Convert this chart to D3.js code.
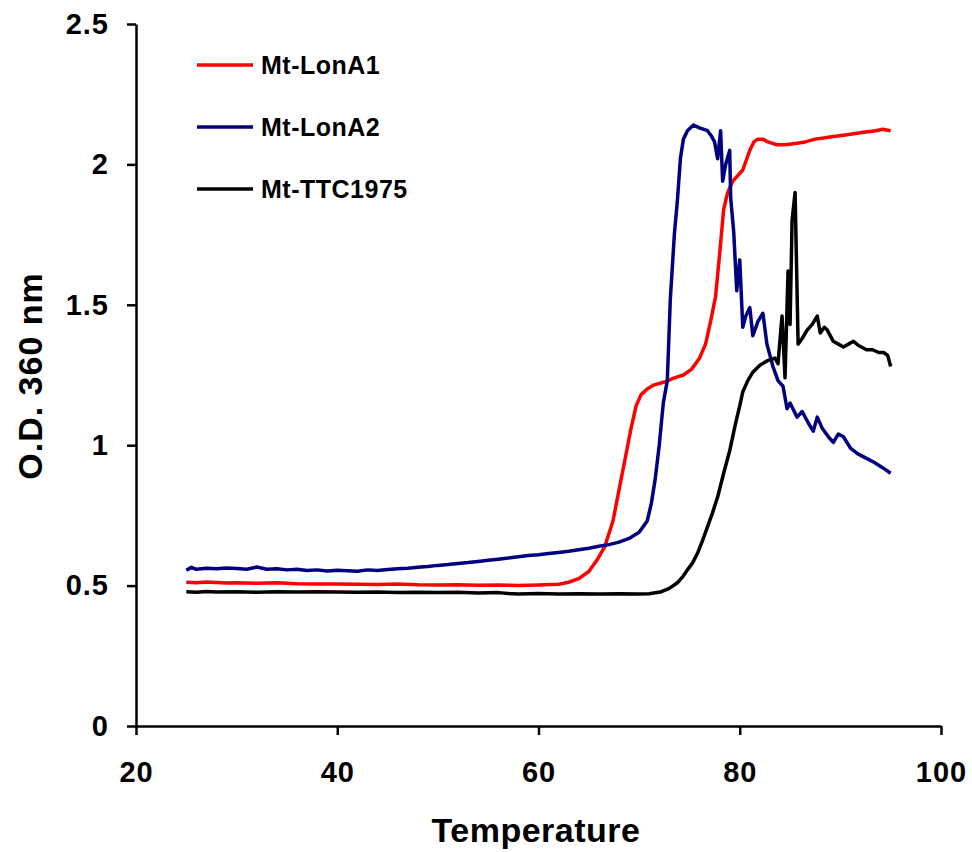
<!DOCTYPE html>
<html>
<head>
<meta charset="utf-8">
<script src="https://cdn.jsdelivr.net/npm/d3@7/dist/d3.min.js"></script>
<style>
  body { margin: 0; background: #fff; }
  svg { display: block; }
  text { font-family: "Liberation Sans", Arial, sans-serif; font-weight: bold; }
</style>
</head>
<body>
<script>
const w = 972
const h = 852

// tick labels
const xTicks = [20, 40, 60, 80, 100]
const yTicks = [0, 0.5, 1, 1.5, 2, 2.5]

// series names
const seriesNames = ['Mt-LonA1', 'Mt-LonA2', 'Mt-TTC1975']

// [temperature, O.D. 360 nm]
const lonA1 = [
  [25, 0.512], [26, 0.510], [27, 0.513], [28, 0.511], [29, 0.509], [30, 0.510],
  [32, 0.508], [34, 0.510], [36, 0.507], [38, 0.506], [40, 0.506], [42, 0.505],
  [44, 0.504], [46, 0.506], [48, 0.503], [50, 0.502], [52, 0.503], [54, 0.501],
  [56, 0.502], [58, 0.500], [60, 0.502], [62, 0.505], [63, 0.512], [64, 0.525],
  [65, 0.55], [65.8, 0.59], [66.6, 0.64], [67.4, 0.73], [68, 0.84], [68.6, 0.95],
  [69.2, 1.06], [69.7, 1.14], [70.2, 1.18], [70.8, 1.20], [71.5, 1.215], [72.5, 1.225],
  [73.5, 1.24], [74.4, 1.25], [75.2, 1.27], [76, 1.31], [76.6, 1.36], [77.1, 1.44],
  [77.6, 1.53], [78.0, 1.68], [78.4, 1.84], [78.8, 1.90], [79.3, 1.94], [79.8, 1.96],
  [80.3, 1.98], [80.7, 2.02], [81.0, 2.05], [81.4, 2.08], [81.8, 2.09], [82.3, 2.09],
  [82.8, 2.08], [83.7, 2.07], [84.5, 2.07], [85.7, 2.075], [86.5, 2.08], [87.5, 2.09],
  [88.5, 2.095], [89.5, 2.10], [90.5, 2.105], [91.5, 2.11], [92.5, 2.115], [93.5, 2.12],
  [94.2, 2.125], [95, 2.12]
]

const lonA2 = [
  [25, 0.555], [25.5, 0.565], [26, 0.558], [27, 0.562], [28, 0.560], [29, 0.563],
  [30, 0.561], [31, 0.558], [32, 0.566], [33, 0.558], [34, 0.560], [35, 0.556],
  [36, 0.558], [37, 0.554], [38, 0.556], [39, 0.552], [40, 0.555], [41, 0.553],
  [42, 0.551], [43, 0.556], [44, 0.554], [45, 0.557], [46, 0.560], [47, 0.562],
  [48, 0.565], [49, 0.568], [50, 0.572], [51, 0.575], [52, 0.579], [53, 0.582],
  [54, 0.586], [55, 0.590], [56, 0.594], [57, 0.598], [58, 0.603], [59, 0.607],
  [60, 0.610], [61, 0.614], [62, 0.618], [63, 0.622], [64, 0.628], [65, 0.633],
  [66, 0.640], [67, 0.646], [68, 0.655], [69, 0.668], [70, 0.69], [70.8, 0.73],
  [71.2, 0.79], [71.6, 0.88], [72.0, 1.0], [72.4, 1.15], [72.8, 1.23], [73.1, 1.52],
  [73.5, 1.75], [73.8, 1.87], [74.1, 2.02], [74.4, 2.09], [74.8, 2.12], [75.4, 2.14],
  [76.0, 2.13], [76.8, 2.12], [77.2, 2.10], [77.5, 2.08], [77.8, 2.02], [78.1, 2.12],
  [78.3, 1.94], [78.6, 2.0], [79.0, 2.05], [79.1, 1.88], [79.4, 1.76], [79.7, 1.55],
  [80.0, 1.66], [80.3, 1.42], [80.6, 1.46], [81.0, 1.49], [81.3, 1.39], [81.8, 1.44],
  [82.3, 1.47], [82.7, 1.36], [83.0, 1.32], [83.3, 1.28], [83.8, 1.23], [84.3, 1.21],
  [84.7, 1.13], [85.0, 1.15], [85.7, 1.10], [86.2, 1.12], [86.8, 1.08], [87.3, 1.05],
  [87.7, 1.10], [88.2, 1.06], [88.8, 1.03], [89.3, 1.01], [89.8, 1.04], [90.3, 1.03],
  [91.0, 0.99], [91.7, 0.97], [92.5, 0.955], [93.3, 0.94], [94.2, 0.92], [95, 0.90]
]

const ttc1975 = [
  [25, 0.478], [26, 0.476], [27, 0.479], [28, 0.477], [30, 0.478], [32, 0.476],
  [34, 0.478], [36, 0.477], [38, 0.478], [40, 0.477], [42, 0.476], [44, 0.477],
  [46, 0.475], [48, 0.476], [50, 0.475], [52, 0.476], [54, 0.474], [56, 0.475],
  [57, 0.472], [58, 0.470], [60, 0.472], [62, 0.470], [64, 0.471], [66, 0.470],
  [68, 0.471], [70, 0.470], [71, 0.471], [72.1, 0.477], [73, 0.49], [73.8, 0.51],
  [74.3, 0.53], [74.8, 0.556], [75.3, 0.58], [75.8, 0.615], [76.3, 0.66], [76.8, 0.71],
  [77.3, 0.76], [77.8, 0.815], [78.4, 0.90], [79.0, 0.98], [79.6, 1.08], [80.0, 1.14],
  [80.3, 1.19], [80.8, 1.23], [81.3, 1.26], [82.0, 1.285], [82.7, 1.30], [83.5, 1.31],
  [83.8, 1.29], [84.2, 1.46], [84.5, 1.24], [84.8, 1.62], [85.0, 1.43], [85.2, 1.80],
  [85.5, 1.90], [85.8, 1.36], [86.2, 1.38], [86.7, 1.41], [87.2, 1.43], [87.7, 1.46],
  [88.0, 1.40], [88.4, 1.42], [88.7, 1.41], [89.3, 1.37], [89.8, 1.36], [90.3, 1.35],
  [90.8, 1.36], [91.3, 1.37], [91.8, 1.355], [92.6, 1.34], [93.2, 1.34], [93.8, 1.33],
  [94.3, 1.33], [94.7, 1.32], [95.0, 1.28]
]

const colors = ['#ff0000', '#000080', '#000000']
const allSeries = [lonA1, lonA2, ttc1975]

// scales
const x = d3.scaleLinear().domain([20, 100]).range([136, 941])
const y = d3.scaleLinear().domain([0, 2.5]).range([726, 24])

const svg = d3.select('body').append('svg')
  .attr('width', w)
  .attr('height', h)

// axes
const xAxis = svg.append('g')
  .attr('transform', `translate(0,${y(0)})`)
  .call(d3.axisBottom(x).tickValues(xTicks).tickSize(9).tickSizeOuter(0).tickPadding(26))
const yAxis = svg.append('g')
  .attr('transform', `translate(${x(20)},0)`)
  .call(d3.axisLeft(y).tickValues(yTicks).tickSize(9).tickSizeOuter(0).tickPadding(18)
    .tickFormat(d => d))

svg.selectAll('.domain, .tick line')
  .attr('stroke', '#000')
  .attr('stroke-width', 2.5)
svg.selectAll('.tick text')
  .attr('fill', '#000')
  .style('font-size', '29px')
  .style('letter-spacing', '1px')
  .style('font-family', '"Liberation Sans", Arial, sans-serif')
  .style('font-weight', 'bold')
xAxis.selectAll('.tick text').attr('dy', '0.71em')

// lines
const line = d3.line()
  .x(d => x(d[0]))
  .y(d => y(d[1]))

svg.selectAll('path.series')
  .data(allSeries)
  .enter()
  .append('path')
  .attr('class', 'series')
  .attr('d', line)
  .attr('fill', 'none')
  .attr('stroke', (d, i) => colors[i])
  .attr('stroke-width', 3.5)
  .attr('stroke-linejoin', 'round')

// legend
const legend = svg.selectAll('g.legend')
  .data(seriesNames)
  .enter()
  .append('g')
  .attr('class', 'legend')
  .attr('transform', (d, i) => `translate(197,${65 + i * 62})`)
legend.append('line')
  .attr('x1', 0).attr('x2', 56)
  .attr('stroke', (d, i) => colors[i])
  .attr('stroke-width', 3.5)
legend.append('text')
  .attr('x', 64)
  .attr('dy', '0.36em')
  .style('font-size', '25px')
  .style('letter-spacing', '0.5px')
  .text(d => d)

// axis titles
svg.append('text')
  .attr('x', 536)
  .attr('y', 842)
  .attr('text-anchor', 'middle')
  .style('font-size', '34px')
  .style('letter-spacing', '0.5px')
  .text('Temperature')
svg.append('text')
  .attr('transform', `translate(42,376) rotate(-90)`)
  .attr('text-anchor', 'middle')
  .style('font-size', '34px')
  .style('letter-spacing', '1px')
  .text('O.D. 360 nm')
</script>
</body>
</html>
